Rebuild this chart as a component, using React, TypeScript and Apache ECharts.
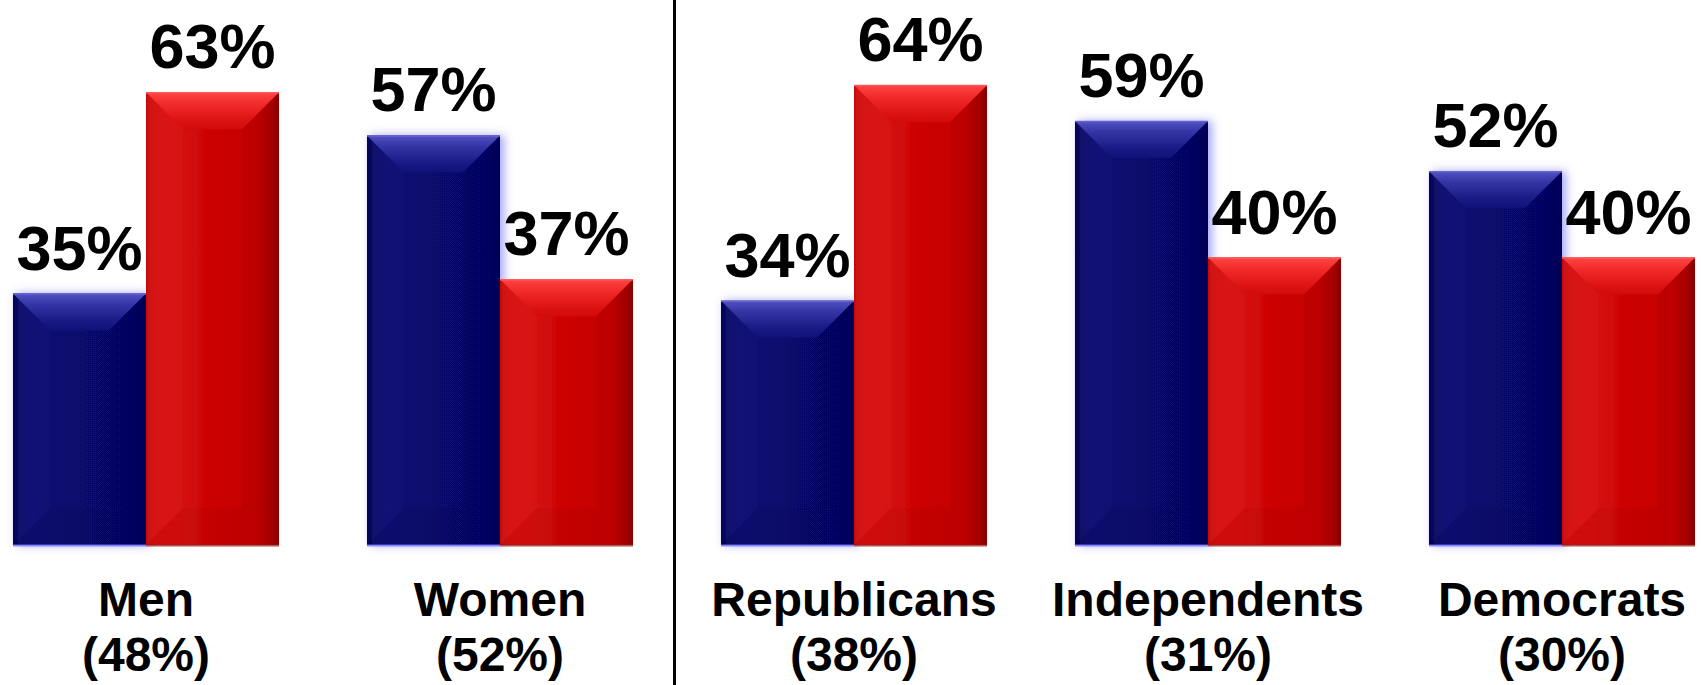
import React, { useEffect, useRef } from "react";
import * as echarts from "echarts";

// ---- data ----
const groups = ["Men", "Women", "Republicans", "Independents", "Democrats"];
const groupShares = ["48%", "52%", "38%", "31%", "30%"];
const blueValues = [35, 57, 34, 59, 52];
const redValues = [63, 37, 64, 40, 40];

const categories = groups.map((g, i) => `${g}\n(${groupShares[i]})`);

const FONT = 'Arial, "Liberation Sans", Helvetica, sans-serif';
const BAR_FRAC = 0.3758; // each bar's share of the category band
const BEVEL = 37;
const SHIFT = 31; // chart canvas starts this far left of the page
const CHART_W = 1770;
const CHART_H = 685;

type Stop = [number, string];
type Pal = {
  face: Stop[];
  top: Stop[];
  left: string;
  right: string;
  bottom: string;
  topLine: string;
  bottomLine: string;
  shadow: string;
};

const bluePal: Pal = {
  face: [
    [0, "#02024e"],
    [0.05, "#08086a"],
    [0.14, "#0b0b74"],
    [0.5, "#07076c"],
    [0.9, "#060666"],
    [1, "#04045a"],
  ],
  top: [
    [0, "#5252c2"],
    [0.3, "#3434a6"],
    [0.7, "#1c1c88"],
    [1, "#10107a"],
  ],
  left: "rgba(255,255,255,0.02)",
  right: "rgba(0,0,0,0.05)",
  bottom: "rgba(0,0,0,0.04)",
  topLine: "#6464d0",
  bottomLine: "rgba(120,120,255,0.85)",
  shadow: "rgba(90,90,240,0.55)",
};

const redPal: Pal = {
  face: [
    [0, "#c40404"],
    [0.06, "#d61010"],
    [0.2, "#d80c0c"],
    [0.5, "#cc0404"],
    [0.84, "#c40000"],
    [0.95, "#a80000"],
    [1, "#8c0000"],
  ],
  top: [
    [0, "#ff4444"],
    [0.35, "#f02828"],
    [0.75, "#de1414"],
    [1, "#d20a0a"],
  ],
  left: "rgba(255,255,255,0.03)",
  right: "rgba(0,0,0,0.04)",
  bottom: "rgba(0,0,0,0.04)",
  topLine: "#ff5a5a",
  bottomLine: "rgba(150,30,30,0.75)",
  shadow: "rgba(0,0,0,0)",
};

function lg(x0: number, y0: number, x1: number, y1: number, stops: Stop[]) {
  return new echarts.graphic.LinearGradient(
    x0,
    y0,
    x1,
    y1,
    stops.map(([o, c]) => ({ offset: o, color: c }))
  );
}

function makeRender(side: number, pal: Pal) {
  return (params: any, api: any) => {
    const ci = api.value(0);
    const v = api.value(1);
    const base = api.coord([ci, 0]);
    const tp = api.coord([ci, v]);
    const band = api.size([1, 0])[0];
    const bw = band * BAR_FRAC;
    const x0 = side < 0 ? base[0] - bw : base[0];
    const x1 = x0 + bw;
    const y0 = tp[1];
    const y1 = base[1];
    const b = Math.min(BEVEL, bw / 2, (y1 - y0) / 2);
    return {
      type: "group",
      children: [
        {
          type: "rect",
          shape: { x: x0, y: y0, width: bw, height: y1 - y0 },
          style: {
            fill: lg(0, 0, 1, 0, pal.face),
            shadowBlur: 10,
            shadowOffsetX: 4,
            shadowOffsetY: 0,
            shadowColor: pal.shadow,
          },
        },
        {
          type: "polygon",
          shape: { points: [[x0, y0], [x1, y0], [x1 - b, y0 + b], [x0 + b, y0 + b]] },
          style: { fill: lg(0, 0, 0, 1, pal.top) },
        },
        {
          type: "polygon",
          shape: { points: [[x0, y0], [x0 + b, y0 + b], [x0 + b, y1 - b], [x0, y1]] },
          style: { fill: pal.left },
        },
        {
          type: "polygon",
          shape: { points: [[x1, y0], [x1, y1], [x1 - b, y1 - b], [x1 - b, y0 + b]] },
          style: { fill: pal.right },
        },
        {
          type: "polygon",
          shape: { points: [[x0, y1], [x1, y1], [x1 - b, y1 - b], [x0 + b, y1 - b]] },
          style: { fill: pal.bottom },
        },
        {
          type: "line",
          shape: { x1: x0, y1: y0 + 0.5, x2: x1, y2: y0 + 0.5 },
          style: { stroke: pal.topLine, lineWidth: 1.5 },
        },
        {
          type: "line",
          shape: { x1: x0, y1: y1 + 0.5, x2: x1, y2: y1 + 0.5 },
          style: { stroke: pal.bottomLine, lineWidth: 2 },
        },
        {
          type: "text",
          x: (x0 + x1) / 2,
          y: y0 - 46,
          style: {
            text: `${v}%`,
            fontSize: 63,
            fontWeight: "bold",
            fontFamily: FONT,
            fill: "#000",
            align: "center",
            verticalAlign: "middle",
          },
        },
      ],
    };
  };
}

export default function App() {
  const ref = useRef<HTMLDivElement>(null);
  useEffect(() => {
    if (!ref.current) return;
    const chart = echarts.init(ref.current, null, { renderer: "svg" });
    chart.setOption({
      animation: false,
      backgroundColor: "#ffffff",
      grid: { left: 0, right: 0, top: 42, bottom: 140, outerBoundsMode: "none" },
      xAxis: {
        type: "category",
        data: categories,
        axisLine: { show: false },
        axisTick: { show: false },
        splitLine: { show: false },
        axisLabel: {
          interval: 0,
          margin: 27,
          fontSize: 48,
          lineHeight: 55,
          fontWeight: "bold",
          fontFamily: FONT,
          color: "#000",
        },
      },
      yAxis: { type: "value", min: 0, max: 70, show: false, splitLine: { show: false } },
      series: [
        {
          name: "Blue",
          type: "custom",
          silent: true,
          renderItem: makeRender(-1, bluePal),
          encode: { x: 0, y: 1 },
          data: blueValues.map((v, i) => [i, v]),
        },
        {
          name: "Red",
          type: "custom",
          silent: true,
          renderItem: makeRender(1, redPal),
          encode: { x: 0, y: 1 },
          data: redValues.map((v, i) => [i, v]),
        },
      ],
      graphic: [
        {
          type: "line",
          shape: { x1: 674.5 + SHIFT, y1: 0, x2: 674.5 + SHIFT, y2: CHART_H },
          style: { stroke: "#000", lineWidth: 3 },
          silent: true,
        },
      ],
    });
    return () => chart.dispose();
  }, []);
  return (
    <div
      ref={ref}
      style={{
        position: "fixed",
        left: -SHIFT,
        top: 0,
        width: CHART_W,
        height: CHART_H,
        background: "#fff",
      }}
    />
  );
}
